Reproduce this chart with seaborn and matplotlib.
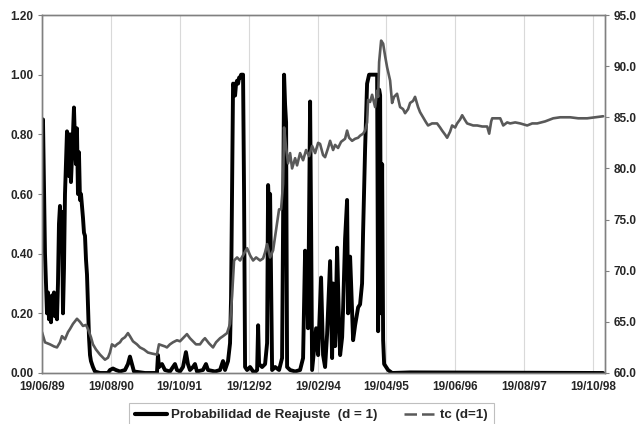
import numpy as np
import pandas as pd
import matplotlib
matplotlib.use("Agg")
import matplotlib.pyplot as plt
import matplotlib.dates as mdates
from matplotlib.lines import Line2D
import seaborn as sns

# ---- data (dates as decimal years) ----
prob_fecha = [1989.463, 1989.480, 1989.514, 1989.531, 1989.548, 1989.565, 1989.582, 1989.599,
              1989.616, 1989.632, 1989.649, 1989.666, 1989.683, 1989.700, 1989.717, 1989.734,
              1989.751, 1989.768, 1989.785, 1989.802, 1989.819, 1989.836, 1989.853, 1989.870,
              1989.887, 1989.904, 1989.921, 1989.938, 1989.954, 1989.971, 1989.988, 1990.005,
              1990.022, 1990.039, 1990.056, 1990.073, 1990.090, 1990.107, 1990.124, 1990.141,
              1990.158, 1990.175, 1990.192, 1990.209, 1990.226, 1990.243, 1990.260, 1990.277,
              1990.293, 1990.327, 1990.361, 1990.446, 1990.582, 1990.615, 1990.666, 1990.717,
              1990.785, 1990.870, 1990.920, 1990.954, 1990.988, 1991.022, 1991.209, 1991.412,
              1991.429, 1991.446, 1991.497, 1991.547, 1991.632, 1991.683, 1991.717, 1991.751,
              1991.802, 1991.853, 1991.903, 1991.937, 1991.971, 1992.022, 1992.056, 1992.090,
              1992.191, 1992.242, 1992.276, 1992.395, 1992.480, 1992.530, 1992.564, 1992.615,
              1992.649, 1992.666, 1992.683, 1992.700, 1992.717, 1992.734, 1992.751, 1992.768,
              1992.785, 1992.802, 1992.819, 1992.836, 1992.852, 1992.869, 1992.886, 1992.903,
              1992.937, 1992.988, 1993.056, 1993.107, 1993.124, 1993.140, 1993.191, 1993.242,
              1993.276, 1993.293, 1993.310, 1993.327, 1993.344, 1993.361, 1993.412, 1993.479,
              1993.530, 1993.547, 1993.564, 1993.581, 1993.598, 1993.615, 1993.666, 1993.751,
              1993.835, 1993.886, 1993.920, 1993.954, 1993.971, 1994.005, 1994.022, 1994.039,
              1994.073, 1994.107, 1994.141, 1994.191, 1994.225, 1994.259, 1994.293, 1994.344,
              1994.378, 1994.395, 1994.429, 1994.463, 1994.497, 1994.514, 1994.548, 1994.565,
              1994.598, 1994.632, 1994.649, 1994.683, 1994.700, 1994.734, 1994.768, 1994.802,
              1994.819, 1994.852, 1994.886, 1994.903, 1994.937, 1994.971, 1995.005, 1995.056,
              1995.107, 1995.141, 1995.158, 1995.175, 1995.192, 1995.209, 1995.226, 1995.243,
              1995.260, 1995.293, 1995.327, 1995.395, 1995.700, 1998.970]
prob_valor = [0.84, 0.85, 0.40, 0.30, 0.20, 0.27, 0.18, 0.24,
              0.17, 0.26, 0.20, 0.27, 0.19, 0.24, 0.18, 0.30,
              0.50, 0.56, 0.45, 0.54, 0.20, 0.35, 0.60, 0.70,
              0.81, 0.78, 0.66, 0.80, 0.64, 0.72, 0.80, 0.89,
              0.78, 0.70, 0.82, 0.60, 0.74, 0.58, 0.60, 0.56,
              0.52, 0.47, 0.46, 0.38, 0.33, 0.22, 0.12, 0.06,
              0.04, 0.02, 0.005, 0.0, 0.0, 0.01, 0.015, 0.01,
              0.005, 0.01, 0.03, 0.055, 0.03, 0.005, 0.0, 0.0,
              0.06, 0.02, 0.03, 0.01, 0.005, 0.02, 0.03, 0.01,
              0.005, 0.02, 0.07, 0.03, 0.01, 0.02, 0.03, 0.005,
              0.01, 0.03, 0.01, 0.005, 0.01, 0.04, 0.01, 0.04,
              0.10, 0.25, 0.60, 0.97, 0.96, 0.93, 0.97, 0.98,
              0.97, 0.99, 0.99, 1.0, 1.0, 1.0, 0.60, 0.02,
              0.01, 0.02, 0.0, 0.01, 0.16, 0.03, 0.02, 0.03,
              0.10, 0.63, 0.55, 0.60, 0.30, 0.01, 0.02, 0.01,
              0.05, 0.50, 1.0, 0.90, 0.84, 0.02, 0.01, 0.005,
              0.01, 0.05, 0.41, 0.31, 0.15, 0.91, 0.50, 0.01,
              0.08, 0.15, 0.06, 0.32, 0.06, 0.02, 0.13, 0.375,
              0.05, 0.30, 0.09, 0.42, 0.15, 0.06, 0.12, 0.22,
              0.45, 0.58, 0.20, 0.39, 0.30, 0.11, 0.16, 0.20,
              0.22, 0.23, 0.30, 0.47, 0.75, 0.97, 1.0, 1.0,
              1.0, 1.0, 0.14, 0.95, 0.93, 0.20, 0.70, 0.11,
              0.03, 0.02, 0.01, 0.0, 0.002, 0.0]

tc_fecha = [1989.463, 1989.514, 1989.599, 1989.666, 1989.717, 1989.768, 1989.802, 1989.853,
            1989.904, 1989.938, 1989.988, 1990.056, 1990.107, 1990.158, 1990.209, 1990.243,
            1990.293, 1990.327, 1990.378, 1990.446, 1990.497, 1990.531, 1990.582, 1990.615,
            1990.649, 1990.700, 1990.734, 1990.785, 1990.819, 1990.870, 1990.920, 1990.954,
            1991.005, 1991.073, 1991.124, 1991.192, 1991.259, 1991.327, 1991.412, 1991.446,
            1991.497, 1991.547, 1991.581, 1991.632, 1991.683, 1991.751, 1991.802, 1991.869,
            1991.920, 1991.971, 1992.022, 1992.073, 1992.141, 1992.191, 1992.225, 1992.293,
            1992.361, 1992.412, 1992.480, 1992.530, 1992.598, 1992.649, 1992.683, 1992.717,
            1992.768, 1992.819, 1992.869, 1992.937, 1992.988, 1993.039, 1993.090, 1993.157,
            1993.208, 1993.242, 1993.276, 1993.327, 1993.378, 1993.429, 1993.479, 1993.513,
            1993.547, 1993.564, 1993.598, 1993.632, 1993.666, 1993.700, 1993.751, 1993.784,
            1993.835, 1993.886, 1993.937, 1993.988, 1994.039, 1994.090, 1994.141, 1994.174,
            1994.225, 1994.259, 1994.310, 1994.344, 1994.395, 1994.429, 1994.479, 1994.530,
            1994.598, 1994.632, 1994.666, 1994.717, 1994.768, 1994.819, 1994.852, 1994.903,
            1994.937, 1994.971, 1994.988, 1995.022, 1995.056, 1995.107, 1995.141, 1995.158,
            1995.175, 1995.209, 1995.243, 1995.276, 1995.310, 1995.361, 1995.395, 1995.428,
            1995.479, 1995.530, 1995.581, 1995.615, 1995.666, 1995.700, 1995.750, 1995.784,
            1995.835, 1995.869, 1995.920, 1995.971, 1996.005, 1996.072, 1996.157, 1996.208,
            1996.242, 1996.293, 1996.327, 1996.377, 1996.411, 1996.462, 1996.496, 1996.547,
            1996.581, 1996.632, 1996.665, 1996.716, 1996.767, 1996.835, 1996.920, 1997.004,
            1997.038, 1997.072, 1997.089, 1997.157, 1997.225, 1997.276, 1997.343, 1997.394,
            1997.479, 1997.564, 1997.682, 1997.767, 1997.852, 1997.987, 1998.123, 1998.242,
            1998.411, 1998.547, 1998.699, 1998.835, 1998.970]
tc_valor = [64.0, 63.0, 62.8, 62.6, 62.5, 63.0, 63.6, 63.3,
            64.0, 64.3, 64.8, 65.3, 65.0, 64.6, 64.7, 64.3,
            63.5, 62.8, 62.3, 61.8, 61.5, 61.3, 61.5, 62.0,
            62.8, 62.6, 62.8, 63.0, 63.3, 63.5, 63.9, 63.6,
            63.1, 62.8, 62.5, 62.3, 62.0, 61.9, 61.8, 62.8,
            62.7, 62.6, 62.5, 62.8, 63.0, 63.2, 63.1, 63.5,
            63.8, 63.4, 63.1, 62.8, 62.8, 63.2, 63.4, 62.9,
            62.5, 63.0, 63.4, 63.6, 63.9, 64.8, 67.5, 71.0,
            71.3, 71.0, 71.5, 72.2, 71.5, 71.0, 71.3, 71.0,
            71.2, 71.8, 72.6, 71.3, 72.0, 74.0, 76.0, 76.0,
            78.5, 84.0, 82.0, 80.5, 81.5, 80.0, 81.0, 80.3,
            81.5, 80.8, 81.8, 81.2, 82.2, 81.5, 82.5, 82.4,
            81.3, 81.1, 82.0, 82.7, 81.8, 82.3, 82.0, 82.6,
            82.9, 83.7, 83.0, 82.7, 82.9, 83.0, 83.2, 83.4,
            83.7, 84.5, 86.7, 86.5, 87.2, 86.0, 87.6, 87.0,
            90.4, 92.5, 92.2, 91.0, 89.9, 88.6, 86.4, 87.0,
            87.3, 86.0, 85.8, 85.4, 85.8, 86.4, 86.6, 87.0,
            86.0, 85.5, 85.0, 84.5, 84.2, 84.4, 84.4, 84.0,
            83.7, 83.3, 83.0, 83.6, 84.2, 84.0, 84.4, 84.8,
            85.2, 84.7, 84.4, 84.3, 84.2, 84.2, 84.1, 84.1,
            83.4, 84.6, 84.9, 84.9, 84.9, 84.2, 84.5, 84.4,
            84.5, 84.4, 84.2, 84.4, 84.4, 84.6, 84.9, 85.0,
            85.0, 84.9, 84.9, 85.0, 85.1]

etiquetas_x = ["1989-06-19", "1990-08-19", "1991-10-19", "1992-12-19", "1994-02-19",
               "1995-04-19", "1996-06-19", "1997-08-19", "1998-10-19"]
nombre_prob = "Probabilidad de Reajuste  (d = 1)"
nombre_tc = "tc (d=1)"


def a_fecha(y):
    out = []
    for v in y:
        yr = int(np.floor(v))
        start = pd.Timestamp(yr, 1, 1)
        ndays = (pd.Timestamp(yr + 1, 1, 1) - start).days
        out.append(start + pd.Timedelta(days=(v - yr) * ndays))
    return pd.to_datetime(out)


df_prob = pd.DataFrame({"fecha": a_fecha(prob_fecha), "valor": prob_valor})
df_tc = pd.DataFrame({"fecha": a_fecha(tc_fecha), "valor": tc_valor})

sns.set_style("white")
plt.rcParams["font.family"] = ["Liberation Sans", "DejaVu Sans"]
plt.rcParams["font.weight"] = "bold"

fig = plt.figure(figsize=(6.39, 4.24), dpi=100)
ax = fig.add_axes([0.0657, 0.1203, 0.881, 0.8443])
ax2 = ax.twinx()

sns.lineplot(data=df_prob, x="fecha", y="valor", ax=ax, color="black", linewidth=2.8,
             legend=False, estimator=None)
sns.lineplot(data=df_tc, x="fecha", y="valor", ax=ax2, color="#595959", linewidth=1.9,
             legend=False, estimator=None)

ticks = pd.to_datetime(etiquetas_x)
ax.set_xlim(pd.Timestamp("1989-06-19"), pd.Timestamp("1999-01-01"))
ax.set_xticks(ticks)
ax.xaxis.set_major_formatter(mdates.DateFormatter("%d/%m/%y"))
ax.set_ylim(0, 1.2)
ax.set_yticks(np.arange(0, 1.21, 0.2))
ax.set_yticklabels([f"{v:.2f}" for v in np.arange(0, 1.21, 0.2)])
ax2.set_ylim(60, 95)
ax2.set_yticks(np.arange(60, 95.1, 5))
ax2.set_yticklabels([f"{v:.1f}" for v in np.arange(60, 95.1, 5)])

ax.grid(axis="x", color="#d9d9d9", linewidth=0.8)
ax.set_axisbelow(True)
ax.set_xlabel("")
ax.set_ylabel("")
ax2.set_ylabel("")

for a in (ax, ax2):
    for s in a.spines.values():
        s.set_color("#808080")
        s.set_linewidth(1.0)
    a.tick_params(axis="both", labelsize=8.5, length=3, color="#808080", width=0.8,
                  direction="out", pad=3)
for lbl in ax.get_xticklabels() + ax.get_yticklabels() + ax2.get_yticklabels():
    lbl.set_fontweight("bold")

handles = [Line2D([], [], color="black", linewidth=3),
           Line2D([], [], color="#595959", linewidth=1.8, linestyle=(0, (5, 2)))]
leg = fig.legend(handles, [nombre_prob, nombre_tc], loc="upper center",
                 bbox_to_anchor=(0.487, 0.0495), ncol=2, frameon=True, fancybox=False,
                 prop={"weight": "bold", "size": 9.6}, handlelength=2.4,
                 handletextpad=0.3, columnspacing=2.0, borderpad=0.45,
                 borderaxespad=0.0)
leg.get_frame().set_edgecolor("#b0b0b0")
leg.get_frame().set_linewidth(0.8)

fig.savefig("out.png", dpi=100)
